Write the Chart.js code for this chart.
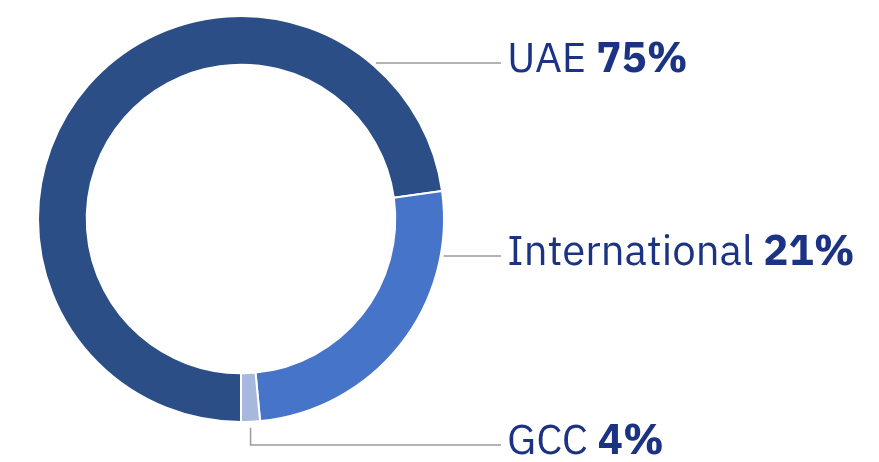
<!DOCTYPE html>
<html>
<head>
<meta charset="utf-8">
<script src="https://cdn.jsdelivr.net/npm/chart.js@4"></script>
<style>
  html, body { margin: 0; padding: 0; background: #fff; }
  #wrap { width: 879px; height: 462px; position: relative; }
</style>
</head>
<body>
<div id="wrap"><canvas id="regionChart"></canvas></div>
<script>
// Chart data (slice sizes as drawn, label text as printed)
const regions = ['UAE', 'International', 'GCC'];
const shares = [72.8, 25.7, 1.5];
const shareLabels = ['75%', '21%', '4%'];
const sliceColors = ['#2c4e86', '#4674c8', '#a8b7dd'];

const textColor = '#1c3384';
const lineColor = '#9a9a9a';
const labelFont = '"IBM Plex Sans", Roboto, "Noto Sans", sans-serif';

// Label rows: y of leader line for each slice, text starts at textX
const labelRowY = [63, 256, 445];
const textX = 507;

const calloutPlugin = {
  id: 'callouts',
  afterDatasetsDraw(chart) {
    const ctx = chart.ctx;
    const arcs = chart.getDatasetMeta(0).data;
    ctx.save();
    ctx.strokeStyle = lineColor;
    ctx.lineWidth = 1.5;

    arcs.forEach((arc, i) => {
      const cx = arc.x, cy = arc.y, r = arc.outerRadius;
      const y = labelRowY[i];
      ctx.beginPath();
      if (i === 2) {
        // small slice at the bottom: drop down from its middle then go right
        const mid = (arc.startAngle + arc.endAngle) / 2;
        const sx = cx + Math.cos(mid) * r;
        const sy = cy + Math.sin(mid) * (r + 6);
        ctx.moveTo(sx, sy);
        ctx.lineTo(sx, y);
        ctx.lineTo(textX - 6, y);
      } else {
        const dy = y - cy;
        const sx = cx + Math.sqrt(Math.max(r * r - dy * dy, 0)) + (i === 0 ? 5 : 3);
        ctx.moveTo(sx, y);
        ctx.lineTo(textX - 6, y);
      }
      ctx.stroke();

      // label text: region regular, share bold
      ctx.textBaseline = 'middle';
      ctx.fillStyle = textColor;
      ctx.font = '400 42px ' + labelFont;
      const name = regions[i] + ' ';
      ctx.fillText(name, textX, y - 3);
      const w = ctx.measureText(name).width;
      ctx.font = '700 42px ' + labelFont;
      ctx.fillText(shareLabels[i], textX + w, y - 3);
    });
    ctx.restore();
  }
};

window.onload = function() {
  const ctx = document.getElementById('regionChart').getContext('2d');
  new Chart(ctx, {
    type: 'doughnut',
    data: {
      labels: regions,
      datasets: [{
        data: shares,
        backgroundColor: sliceColors,
        borderColor: '#ffffff',
        borderWidth: 2
      }]
    },
    options: {
      responsive: true,
      maintainAspectRatio: false,
      animation: false,
      rotation: 180,
      cutout: '76%',
      layout: { padding: { left: 37, right: 434, top: 14, bottom: 38 } },
      plugins: {
        legend: { display: false },
        tooltip: { enabled: false }
      }
    },
    plugins: [calloutPlugin]
  });
};
</script>
</body>
</html>
